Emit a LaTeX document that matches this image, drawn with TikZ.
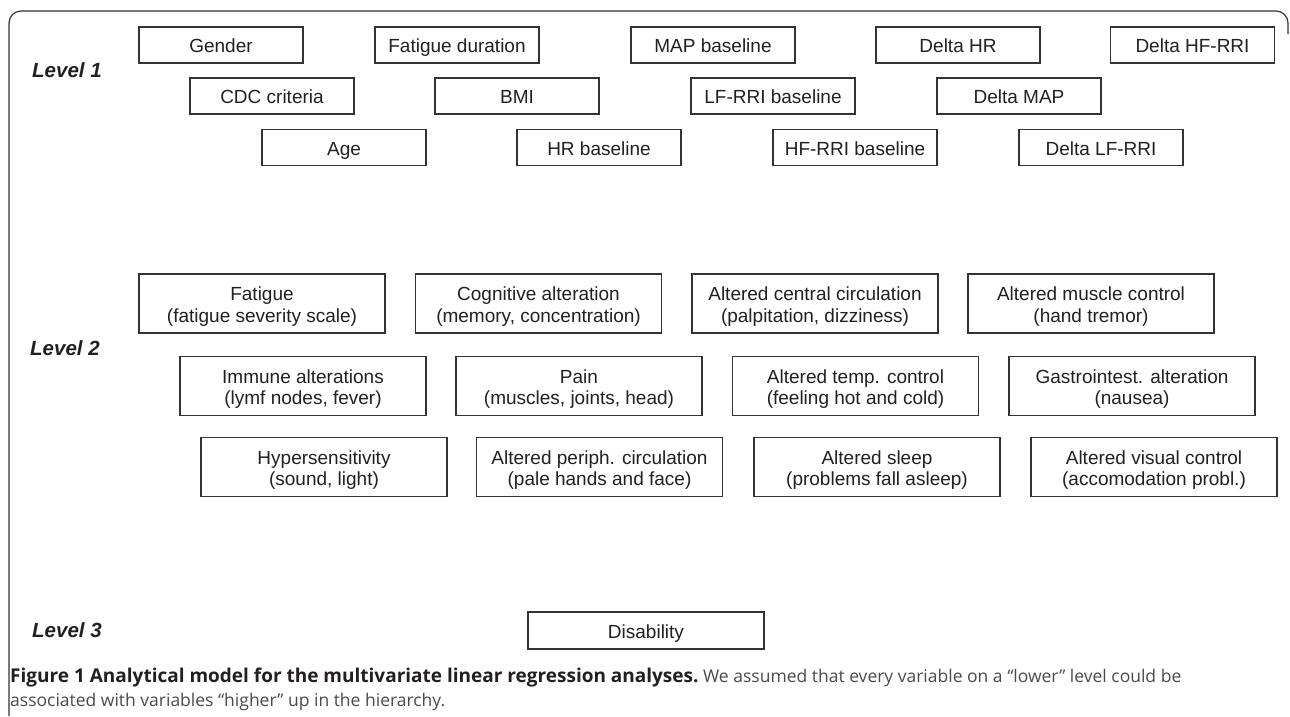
\documentclass[tikz,border=0pt]{standalone}
\usepackage{fontspec}
\setmainfont{Liberation Sans}
\newfontfamily\capfont{Open Sans}
\definecolor{boxline}{HTML}{333333}
\definecolor{txt}{HTML}{231F20}
\definecolor{captxt}{HTML}{4A4A4A}
\newcommand\twoline[2]{\rule{0pt}{19.6pt}#1\\#2}
\begin{document}
\begin{tikzpicture}[x=1pt,y=-1pt,
  lvone/.style={draw=boxline, line width=1.1pt, minimum width=164pt, minimum height=36pt, inner sep=0pt, text height=16pt, text depth=0.6pt, text=txt, font=\fontsize{19}{21}\selectfont},
  lvtwo/.style={draw=boxline, line width=1.1pt, minimum width=246pt, minimum height=59pt, inner sep=0pt, align=center, text=txt, font=\fontsize{19}{21.4}\selectfont},
  lvlabel/.style={anchor=west, inner sep=0pt, text=txt, font=\fontsize{20.5}{22}\selectfont\bfseries\itshape},
  caption/.style={anchor=west, inner sep=0pt, font=\capfont\fontsize{17.5}{20}\selectfont}]
\useasboundingbox (0,0) rectangle (1290,716);
% frame
\draw[boxline, line width=1.2pt, rounded corners=12pt] (9,716) -- (9,11) -- (1288,11) -- (1288,34);
% level labels
\node[lvlabel] (l1) at (32,70) {Level 1};
\node[lvlabel] (l2) at (30,348) {Level 2};
\node[lvlabel] (l3) at (32,630) {Level 3};
% level 1
\node[lvone] (gender) at (221,45) {Gender};
\node[lvone] (fatdur) at (457,45) {Fatigue duration};
\node[lvone] (mapb) at (713,45) {MAP baseline};
\node[lvone] (dhr) at (958,45) {Delta HR};
\node[lvone] (dhf) at (1192.5,45) {Delta HF-RRI};
\node[lvone] (cdc) at (272,96) {CDC criteria};
\node[lvone] (bmi) at (517,96) {BMI};
\node[lvone] (lfb) at (773,96) {LF-RRI baseline};
\node[lvone] (dmap) at (1019,96) {Delta MAP};
\node[lvone] (age) at (344,147.5) {Age};
\node[lvone] (hrb) at (599,147.5) {HR baseline};
\node[lvone] (hfb) at (855,147.5) {HF-RRI baseline};
\node[lvone] (dlf) at (1101,147.5) {Delta LF-RRI};
% level 2
\node[lvtwo] (fat) at (262,303.5) {\twoline{Fatigue}{(fatigue severity scale)}};
\node[lvtwo] (cog) at (538.5,303.5) {\twoline{Cognitive alteration}{(memory, concentration)}};
\node[lvtwo] (cen) at (815,303.5) {\twoline{Altered central circulation}{(palpitation, dizziness)}};
\node[lvtwo] (mus) at (1091,303.5) {\twoline{Altered muscle control}{(hand tremor)}};
\node[lvtwo] (imm) at (303,386) {\twoline{Immune alterations}{(lymf nodes, fever)}};
\node[lvtwo] (pain) at (579,386) {\twoline{Pain}{(muscles, joints, head)}};
\node[lvtwo] (temp) at (855.5,386) {\twoline{Altered temp. control}{(feeling hot and cold)}};
\node[lvtwo] (gas) at (1132,386) {\twoline{Gastrointest. alteration}{(nausea)}};
\node[lvtwo] (hyp) at (324,467) {\twoline{Hypersensitivity}{(sound, light)}};
\node[lvtwo] (per) at (599.5,467) {\twoline{Altered periph. circulation}{(pale hands and face)}};
\node[lvtwo] (slp) at (877,467) {\twoline{Altered sleep}{(problems fall asleep)}};
\node[lvtwo] (vis) at (1154,467) {\twoline{Altered visual control}{(accomodation probl.)}};
% level 3
\node[lvone, minimum width=236pt, minimum height=37pt] (dis) at (646,630.5) {Disability};
% caption
\node[caption] (cap1) at (10,677) {\textcolor{txt}{\fontsize{19}{20}\selectfont\bfseries Figure 1 Analytical model for the multivariate linear regression analyses.}\ \textcolor{captxt}{We assumed that every variable on a “lower” level could be}};
\node[caption, text=captxt] (cap2) at (10,702) {associated with variables “higher” up in the hierarchy.};
\end{tikzpicture}
\end{document}
